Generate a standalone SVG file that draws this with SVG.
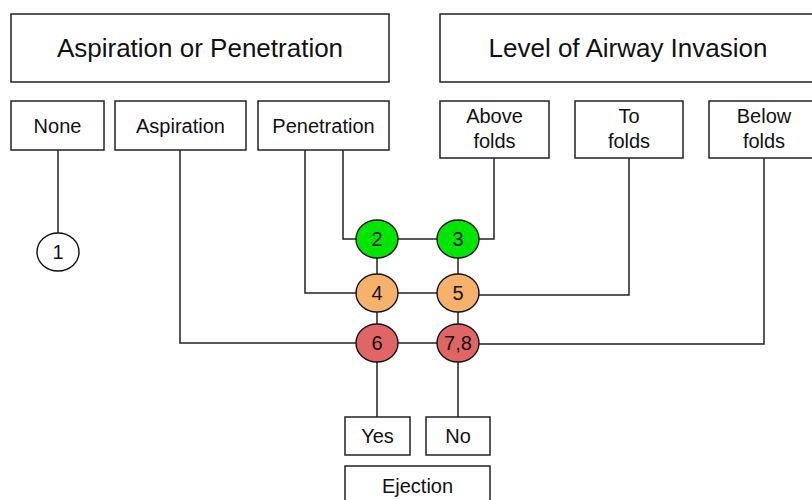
<svg xmlns="http://www.w3.org/2000/svg" width="812" height="500" viewBox="0 0 812 500">
<style>
.box{fill:#fff;stroke:#222;stroke-width:1.5}
.c{stroke:#111;stroke-width:1.4}
.t{font-family:"Liberation Sans",Arial,sans-serif;font-size:20px;fill:#111;text-anchor:middle}
.h{font-size:26px}
.ln{fill:none;stroke:#222;stroke-width:1.5}
.g{fill:#00e600}.o{fill:#f6b26b}.r{fill:#e06666}.w{fill:#fff}
</style>
<rect width="812" height="500" fill="#fff"/>
<g id="connectors" class="ln">
<path d="M58 150V233"/>
<path d="M180 150V343H356"/>
<path d="M305 150V293H356"/>
<path d="M343 150V239H356"/>
<path d="M494 158V239H479"/>
<path d="M629 158V295H479"/>
<path d="M764 158V344H479"/>
<path d="M398 239H437M398 293H437M398 343H437"/>
<path d="M377 258V274M377 312V324M458 258V274M458 312V324"/>
<path d="M377 362V417M458 362V417"/>
</g>
<g id="aspiration-or-penetration"><rect class="box" x="11" y="14" width="378" height="68"/><text class="t h" x="200" y="57">Aspiration or Penetration</text></g>
<g id="level-of-airway-invasion"><rect class="box" x="440" y="14" width="380" height="68"/><text class="t h" x="628" y="57">Level of Airway Invasion</text></g>
<g id="none"><rect class="box" x="11" y="101" width="93" height="49"/><text class="t" x="57.5" y="133">None</text></g>
<g id="aspiration"><rect class="box" x="115" y="101" width="131" height="49"/><text class="t" x="180.5" y="133">Aspiration</text></g>
<g id="penetration"><rect class="box" x="258" y="101" width="131" height="49"/><text class="t" x="323.5" y="133">Penetration</text></g>
<g id="above-folds"><rect class="box" x="440" y="101" width="109" height="57"/><text class="t" x="494.5" y="123">Above</text><text class="t" x="494.5" y="148">folds</text></g>
<g id="to-folds"><rect class="box" x="575" y="101" width="108" height="57"/><text class="t" x="629" y="123">To</text><text class="t" x="629" y="148">folds</text></g>
<g id="below-folds"><rect class="box" x="709" y="101" width="110" height="57"/><text class="t" x="764" y="123">Below</text><text class="t" x="764" y="148">folds</text></g>
<g id="n1"><ellipse class="c w" cx="58" cy="252" rx="21" ry="19"/><text class="t" x="58" y="259">1</text></g>
<g id="n2"><ellipse class="c g" cx="377" cy="239" rx="21" ry="19"/><text class="t" x="377" y="246">2</text></g>
<g id="n3"><ellipse class="c g" cx="458" cy="239" rx="21" ry="19"/><text class="t" x="458" y="246">3</text></g>
<g id="n4"><ellipse class="c o" cx="377" cy="293" rx="21" ry="19"/><text class="t" x="377" y="300">4</text></g>
<g id="n5"><ellipse class="c o" cx="458" cy="293" rx="21" ry="19"/><text class="t" x="458" y="300">5</text></g>
<g id="n6"><ellipse class="c r" cx="377" cy="343" rx="21" ry="19"/><text class="t" x="377" y="350">6</text></g>
<g id="n78"><ellipse class="c r" cx="458" cy="343" rx="21" ry="19"/><text class="t" x="458" y="350">7,8</text></g>
<g id="yes"><rect class="box" x="345" y="417" width="65" height="38"/><text class="t" x="377.5" y="443">Yes</text></g>
<g id="no"><rect class="box" x="426" y="417" width="64" height="38"/><text class="t" x="458" y="443">No</text></g>
<g id="ejection"><rect class="box" x="345" y="466" width="145" height="40"/><text class="t" x="417.5" y="493">Ejection</text></g>
</svg>
